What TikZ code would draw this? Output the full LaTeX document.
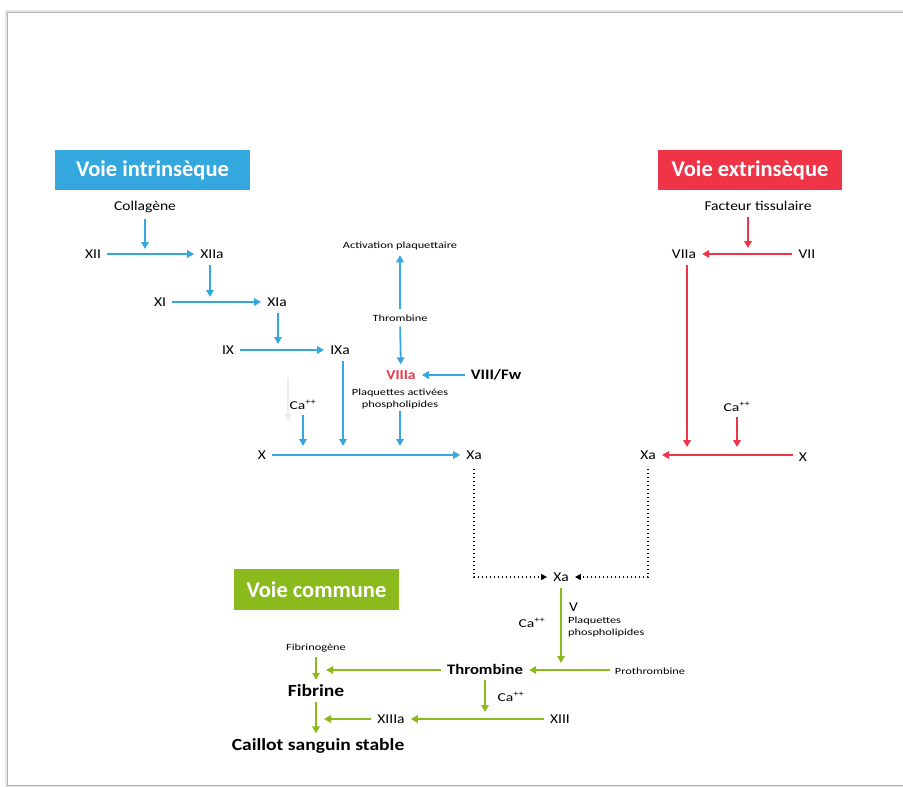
\documentclass[tikz,border=0pt]{standalone}
\usepackage{fontspec}
\setmainfont{Carlito}
\newfontfamily\wfont[FakeStretch=1.15]{Carlito}
\newfontfamily\sfont[FakeStretch=1.3]{Carlito}
\usetikzlibrary{arrows.meta}
\definecolor{cblue}{HTML}{35A7DF}
\definecolor{cred}{HTML}{EE3446}
\definecolor{cgreen}{HTML}{8BBA1C}
\tikzset{
  lbl/.style={font=\wfont\fontsize{13.5}{15}\selectfont, inner sep=6pt},
  sml/.style={font=\sfont\fontsize{9.5}{11.5}\selectfont, inner sep=5pt},
  cal/.style={font=\sfont\fontsize{12}{14}\selectfont, inner sep=5pt},
  bld/.style={font=\wfont\fontsize{14.5}{16}\selectfont\bfseries, inner sep=6pt},
  big/.style={font=\wfont\fontsize{17}{19}\selectfont\bfseries, inner sep=5pt},
  hdr/.style={font=\fontsize{22.5}{24}\selectfont\bfseries, text=white, minimum height=40pt, inner sep=0pt},
  tip/.style={-{Triangle[length=7pt,width=7.5pt]}},
  barr/.style={draw=cblue, line width=1.8pt, tip},
  rarr/.style={draw=cred, line width=1.8pt, tip},
  garr/.style={draw=cgreen, line width=1.8pt, tip},
  darr/.style={draw=black, line width=1.6pt, dash pattern=on 1.6pt off 2.4pt, -{Triangle[length=6pt,width=6pt]}},
}
\begin{document}
\begin{tikzpicture}[x=1pt,y=-1pt]
\useasboundingbox (0,0) rectangle (903,787);
% page frame
\draw[black!10, line width=3pt] (903,11) -- (6,11) -- (6,786) -- (903,786);
\draw[black!30, line width=0.8pt] (903,12) -- (7,12) -- (7,785) -- (903,785);

% headers
\node[hdr, fill=cblue, minimum width=195pt] (hint) at (152.5,170) {Voie intrinsèque};
\node[hdr, fill=cred, minimum width=184pt] (hext) at (750,170) {Voie extrinsèque};
\node[hdr, fill=cgreen, minimum width=165pt, minimum height=41pt] (hcom) at (316.5,589.5) {Voie commune};

% ---- intrinsic pathway ----
\node[lbl] (coll) at (145,207) {Collagène};
\node[lbl] (XII) at (93,254) {XII};
\node[lbl] (XIIa) at (212,254) {XIIa};
\node[lbl] (XI) at (160,302) {XI};
\node[lbl] (XIa) at (277,302) {XIa};
\node[lbl] (IX) at (228,350) {IX};
\node[lbl] (IXa) at (340,350) {IXa};
\node[sml] (act) at (400,246) {Activation plaquettaire};
\node[sml] (thr1) at (400,318) {Thrombine};
\node[lbl, font=\wfont\fontsize{13.5}{15}\selectfont\bfseries, text=cred] (VIIIa) at (401,375) {VIIIa};
\node[bld] (VIIIfw) at (496,375) {VIII/Fw};
\node[sml, align=center, inner sep=2pt] (plaq) at (400,399) {Plaquettes activées\\phospholipides};
\node[cal] (ca1) at (303,405) {Ca\textsuperscript{++}};
\node[lbl] (X1) at (262,455) {X};
\node[lbl] (Xa1) at (474,455) {Xa};

\coordinate (c1) at (145,249);
\coordinate (c2) at (210,297);
\coordinate (c3) at (278,344);
\coordinate (cx) at (0,446);

\draw[barr] (coll) -- (c1);
\draw[barr] (XII) -- (XIIa);
\draw[barr] (XIIa.south -| c2) -- (c2);
\draw[barr] (XI) -- (XIa);
\draw[barr] (XIa.south -| c3) -- (c3);
\draw[barr] (IX) -- (IXa);
\draw[barr] (thr1) -- (act);
\draw[barr] (thr1) -- (VIIIa);
\draw[barr] (VIIIfw) -- (VIIIa);
\draw[barr] (ca1) -- (ca1 |- cx);
\draw[barr] ([xshift=3pt]IXa.south) -- ([xshift=3pt]IXa.south |- cx);
\draw[barr] (plaq) -- (plaq |- cx);
\draw[barr] (X1) -- (Xa1);
\coordinate (f1) at (288,378);
\coordinate (f2) at (288,421);
\draw[black!7, line width=1.2pt, tip] (f1) -- (f2);

% ---- extrinsic pathway ----
\node[lbl] (fact) at (758,206) {Facteur tissulaire};
\node[lbl] (VIIa) at (684,254) {VIIa};
\node[lbl] (VII) at (807,254) {VII};
\node[cal] (ca2) at (737,407) {Ca\textsuperscript{++}};
\node[lbl] (X2) at (803,457) {X};
\node[lbl] (Xa2) at (648,455) {Xa};
\coordinate (r1) at (748,248);
\coordinate (r2) at (0,447);
\draw[rarr] (fact.south -| r1) -- (r1);
\draw[rarr] (VII) -- (VIIa);
\draw[rarr] ([xshift=3pt]VIIa.south) -- ([xshift=3pt]VIIa.south |- r2);
\draw[rarr] (ca2) -- (ca2 |- r2);
\draw[rarr] (X2.west |- Xa2) -- (Xa2);

% ---- common pathway ----
\node[lbl] (Xa3) at (561,577) {Xa};
\draw[darr] ([yshift=-3pt]Xa1.south) -- (Xa1 |- Xa3) -- (Xa3);
\draw[darr] ([yshift=-3pt]Xa2.south) -- (Xa2 |- Xa3) -- (Xa3);

\node[lbl, inner sep=1pt, anchor=west] (V) at (568,607) {V};
\node[sml, align=left, inner sep=1pt, anchor=north west] (plaq2) at (567,616) {Plaquettes\\phospholipides};
\node[cal] (ca3) at (532,623) {Ca\textsuperscript{++}};
\node[bld] (thr2) at (485,669) {Thrombine};
\node[sml] (proth) at (650,671) {Prothrombine};
\node[sml] (fbg) at (316,648) {Fibrinogène};
\node[big] (fib) at (316,691) {Fibrine};
\node[big] (cai) at (318,746) {Caillot sanguin stable};
\node[cal] (ca4) at (511,697) {Ca\textsuperscript{++}};
\node[lbl] (XIII) at (560,719) {XIII};
\node[lbl] (XIIIa) at (391,719) {XIIIa};

\coordinate (g1) at (0,663);
\coordinate (g2) at (326,670);
\coordinate (g3) at (0,712);
\coordinate (g4) at (324,719);
\draw[garr] (Xa3) -- (Xa3 |- g1);
\draw[garr] (proth.west |- g2) -- (thr2.east |- g2);
\draw[garr] (thr2.west |- g2) -- (g2);
\draw[garr] (fbg) -- (fib);
\draw[garr] (fib) -- (fib |- cai.north);
\draw[garr] (thr2) -- (thr2 |- g3);
\draw[garr] (XIII) -- (XIIIa);
\draw[garr] (XIIIa) -- (g4);
\end{tikzpicture}
\end{document}
